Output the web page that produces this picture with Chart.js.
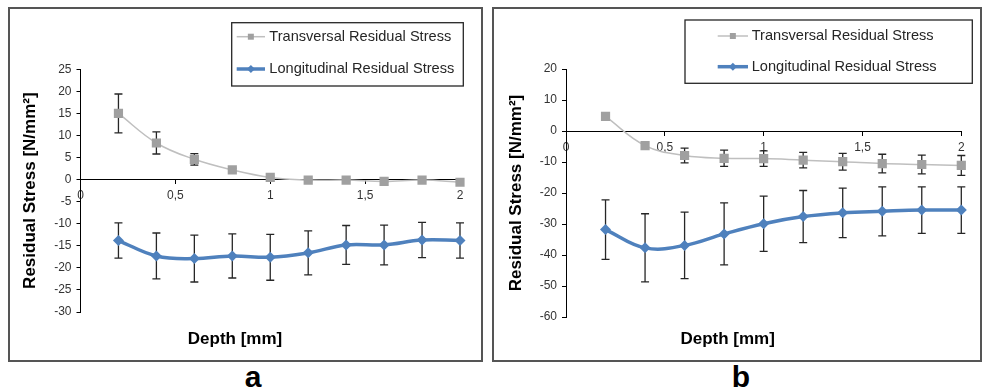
<!DOCTYPE html>
<html>
<head>
<meta charset="utf-8">
<script src="https://cdn.jsdelivr.net/npm/chart.js@4.4.1/dist/chart.umd.min.js"></script>
<style>
  body { margin: 0; background: #fff; width: 987px; height: 390px; position: relative; overflow: hidden; font-family: "Liberation Sans", Arial, sans-serif; }
  .panel { position: absolute; box-sizing: border-box; border: 2px solid #555; background: #fff; }
  #panelA { left: 8px; top: 7px; width: 475px; height: 355px; }
  #panelB { left: 492px; top: 7px; width: 490px; height: 355px; }
  .panel canvas { display: block; }
  .tag { position: absolute; top: 362px; width: 40px; text-align: center; font-size: 30px; line-height: 30px; font-weight: bold; color: #000; }
</style>
</head>
<body>
<div class="panel" id="panelA"><canvas id="chartA" width="471" height="351"></canvas></div>
<div class="panel" id="panelB"><canvas id="chartB" width="486" height="351"></canvas></div>
<div class="tag" style="left:233px">a</div>
<div class="tag" style="left:721px">b</div>
<script>
const depth = [0.2, 0.4, 0.6, 0.8, 1.0, 1.2, 1.4, 1.6, 1.8, 2.0];
const xTickLabels = ['0', '0,5', '1', '1,5', '2'];
const seriesNames = ['Transversal Residual Stress', 'Longitudinal Residual Stress'];

// chart a
const transA = [15.0, 8.3, 4.6, 2.2, 0.5, -0.1, -0.1, -0.4, -0.1, -0.6];
const transAErr = [4.4, 2.5, 1.3, 0.4, 0.3, 0.2, 0.2, 0.2, 0.2, 0.2];
const longA = [-13.8, -17.3, -17.9, -17.3, -17.6, -16.6, -14.8, -14.8, -13.7, -13.8];
const longAErr = [4.0, 5.2, 5.3, 5.0, 5.2, 5.0, 4.4, 4.5, 4.0, 4.0];

// chart b
const transB = [4.7, -4.7, -7.9, -8.8, -8.9, -9.4, -9.9, -10.5, -10.8, -11.1];
const transBErr = [0.8, 0.8, 2.4, 2.6, 2.5, 2.5, 2.7, 3.0, 3.0, 3.2];
const longB = [-31.8, -37.7, -36.9, -33.2, -29.9, -27.6, -26.4, -25.9, -25.5, -25.5];
const longBErr = [9.6, 11.0, 10.7, 10.0, 8.9, 8.4, 8.0, 7.9, 7.5, 7.5];

const fontFamily = '"Liberation Sans", Arial, sans-serif';

const errorBars = {
    id: 'errorBars',
    beforeDatasetsDraw(chart) {
        const ctx = chart.ctx;
        const xs = chart.scales.x, ys = chart.scales.y;
        ctx.save();
        ctx.strokeStyle = '#262626';
        ctx.lineWidth = 1.3;
        chart.data.datasets.forEach(ds => {
            ds.data.forEach((p, i) => {
                const px = xs.getPixelForValue(p.x);
                const top = ys.getPixelForValue(p.y + ds.errors[i]);
                const bot = ys.getPixelForValue(p.y - ds.errors[i]);
                ctx.beginPath();
                ctx.moveTo(px, top); ctx.lineTo(px, bot);
                ctx.moveTo(px - 4, top); ctx.lineTo(px + 4, top);
                ctx.moveTo(px - 4, bot); ctx.lineTo(px + 4, bot);
                ctx.stroke();
            });
        });
        ctx.restore();
    }
};

function marker(ctx, style, x, y, r) {
    ctx.beginPath();
    if (style === 'rect') {
        ctx.rect(x - r, y - r, 2 * r, 2 * r);
    } else {
        ctx.moveTo(x, y - r); ctx.lineTo(x + r, y); ctx.lineTo(x, y + r); ctx.lineTo(x - r, y);
        ctx.closePath();
    }
    ctx.fill();
}

const boxLegend = {
    id: 'boxLegend',
    afterDraw(chart, args, opts) {
        const ctx = chart.ctx;
        ctx.save();
        ctx.fillStyle = '#fff';
        ctx.fillRect(opts.x, opts.y, opts.w, opts.h);
        ctx.strokeStyle = '#262626';
        ctx.lineWidth = 1.3;
        ctx.strokeRect(opts.x, opts.y, opts.w, opts.h);
        chart.data.datasets.forEach((ds, i) => {
            const ry = opts.rows[i];
            ctx.strokeStyle = ds.borderColor;
            ctx.lineWidth = ds.borderWidth;
            ctx.beginPath();
            ctx.moveTo(opts.lineX[0], ry);
            ctx.lineTo(opts.lineX[1], ry);
            ctx.stroke();
            ctx.fillStyle = ds.pointBackgroundColor;
            marker(ctx, ds.pointStyle, (opts.lineX[0] + opts.lineX[1]) / 2, ry, i === 0 ? 3 : 4);
            ctx.fillStyle = '#262626';
            ctx.font = '14.6px ' + fontFamily;
            ctx.textBaseline = 'middle';
            ctx.fillText(ds.label, opts.textX, ry);
        });
        ctx.restore();
    }
};

function points(values) {
    return values.map((v, i) => ({ x: depth[i], y: v }));
}

function makeChart(id, trans, transErr, long, longErr, yMin, yMax, yStep, box) {
    const ctx = document.getElementById(id).getContext('2d');
    const tickFont = { family: fontFamily, size: 12 };
    const titleFont = { family: fontFamily, size: 17, weight: 'bold' };
    return new Chart(ctx, {
        type: 'line',
        data: {
            datasets: [{
                label: seriesNames[0],
                data: points(trans),
                errors: transErr,
                borderColor: '#bfbfbf',
                borderWidth: 1.5,
                pointStyle: 'rect',
                pointRadius: 6.5,
                pointBorderWidth: 0,
                pointBackgroundColor: '#a0a0a0',
                tension: 0.4,
                clip: 10
            }, {
                label: seriesNames[1],
                data: points(long),
                errors: longErr,
                borderColor: '#4f81bd',
                borderWidth: 3.5,
                pointStyle: 'rectRot',
                pointRadius: 5.5,
                pointBorderWidth: 0,
                pointBackgroundColor: '#4f81bd',
                tension: 0.4,
                clip: 10
            }]
        },
        options: {
            responsive: false,
            animation: false,
            layout: { padding: { left: 0, top: box.top, right: box.right, bottom: box.bottom } },
            scales: {
                x: {
                    type: 'linear',
                    min: 0,
                    max: 2,
                    position: { y: 0 },
                    grid: { drawOnChartArea: false, drawTicks: true, tickLength: 4, color: '#000' },
                    border: { color: '#000', width: 1 },
                    ticks: {
                        stepSize: 0.5, padding: 5, color: '#333', font: tickFont, maxRotation: 0,
                        callback: (v, i) => xTickLabels[i]
                    }
                },
                y: {
                    min: yMin,
                    max: yMax,
                    grid: { drawOnChartArea: false, drawTicks: true, tickLength: 4, color: '#000' },
                    border: { color: '#000', width: 1 },
                    ticks: { stepSize: yStep, padding: 5, color: '#333', font: tickFont },
                    title: {
                        display: true, text: 'Residual Stress [N/mm²]', color: '#000', font: titleFont,
                        padding: { top: box.yTitlePad, bottom: 0 }
                    },
                    afterFit: s => { s.width = box.yWidth; }
                }
            },
            plugins: {
                legend: { display: false },
                tooltip: { enabled: false },
                title: {
                    display: true, position: 'bottom', text: 'Depth [mm]', color: '#000', font: titleFont,
                    padding: { top: box.xTitlePad, bottom: 0 }
                },
                boxLegend: box.legend
            }
        },
        plugins: [errorBars, boxLegend]
    });
}

makeChart('chartA', transA, transAErr, longA, longAErr, -30, 25, 5, {
    top: 60.3, right: 21, bottom: 10.8, yWidth: 70.5, yTitlePad: 10, xTitlePad: 16.8,
    legend: { x: 221.7, y: 13.7, w: 231.6, h: 63.3, rows: [27.7, 60], lineX: [226.7, 255], textX: 259.3 }
});

makeChart('chartB', transB, transBErr, longB, longBErr, -60, 20, 10, {
    top: 60, right: 18.7, bottom: 10.8, yWidth: 72, yTitlePad: 12, xTitlePad: 11.8,
    legend: { x: 191, y: 11, w: 287.3, h: 63.3, rows: [27, 57.7], lineX: [223.7, 254], textX: 257.7 }
});
</script>
</body>
</html>
